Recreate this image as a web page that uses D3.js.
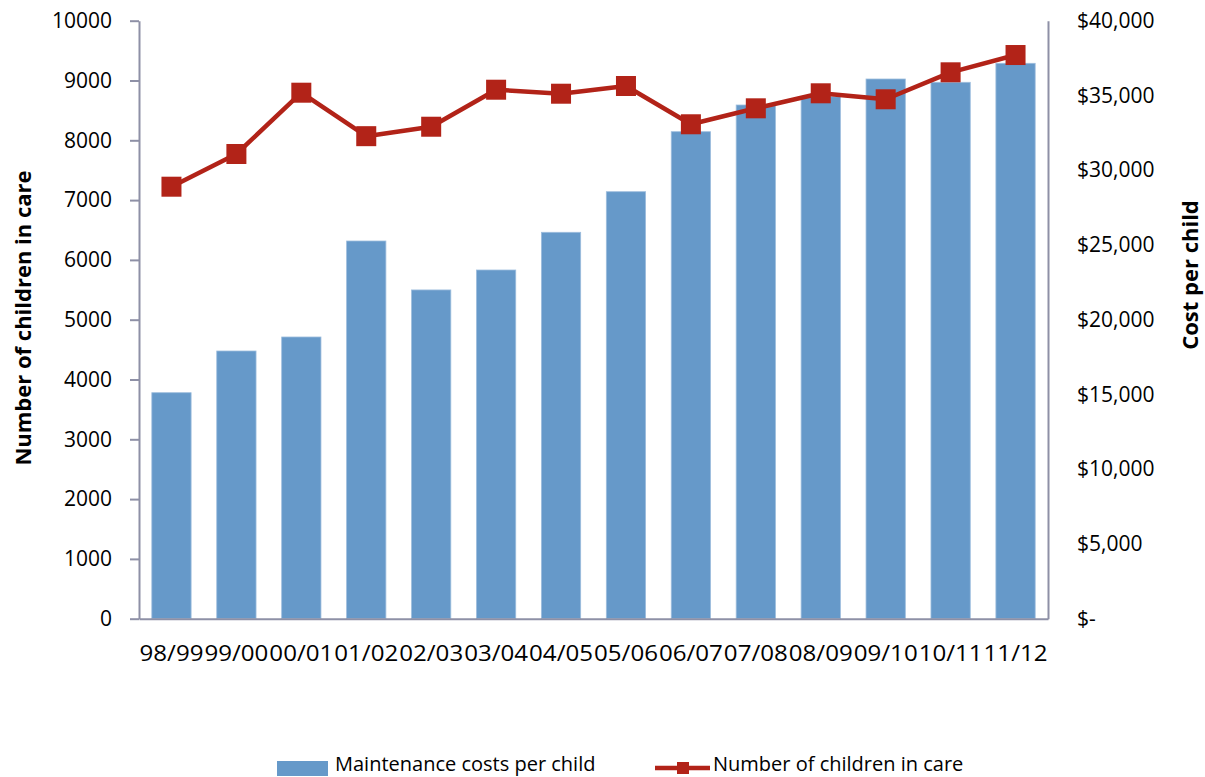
<!DOCTYPE html>
<html lang="en">
<head>
    <meta charset="UTF-8">
    <title>Children in care and cost per child</title>
    <style>
        body { margin: 0; background: #fff; }
        text { font-family: "Open Sans", sans-serif; fill: #000; }
    </style>
</head>
<body>
    <svg id="chart" width="1205" height="777"></svg>

    <script src="https://d3js.org/d3.v7.min.js"></script>
    <script>
        const years = ["98/99", "99/00", "00/01", "01/02", "02/03", "03/04", "04/05",
                       "05/06", "06/07", "07/08", "08/09", "09/10", "10/11", "11/12"];
        const childrenInCare = [7224, 7771, 8796, 8069, 8227, 8846, 8779,
                                8908, 8268, 8535, 8786, 8686, 9137, 9426];
        const costPerChild = [15117, 17906, 18843, 25264, 21990, 23324, 25846,
                              28562, 32575, 34361, 34916, 36100, 35880, 37150];
        const leftTicks = [0, 1000, 2000, 3000, 4000, 5000, 6000, 7000, 8000, 9000, 10000];
        const rightTicks = [0, 5000, 10000, 15000, 20000, 25000, 30000, 35000, 40000];

        const plotLeft = 139, plotRight = 1048, plotTop = 20.7, plotBottom = 618.7;
        const axisColor = "#8E90A6";
        const barColor = "#6699C9";
        const lineColor = "#B22318";

        const svg = d3.select("#chart");

        const x = d3.scaleBand()
            .domain(years)
            .range([plotLeft, plotRight])
            .paddingInner(0.395)
            .paddingOuter(0.1975);

        const yLeft = d3.scaleLinear().domain([0, 10000]).range([plotBottom, plotTop]);
        const yRight = d3.scaleLinear().domain([0, 40000]).range([plotBottom, plotTop]);

        // bars (cost, right axis)
        svg.append("g")
            .selectAll("rect")
            .data(years)
            .join("rect")
            .attr("x", (d) => x(d))
            .attr("y", (d, i) => yRight(costPerChild[i]))
            .attr("width", x.bandwidth())
            .attr("height", (d, i) => plotBottom - yRight(costPerChild[i]))
            .attr("fill", barColor)
            .attr("stroke", "#9DBDDD")
            .attr("stroke-width", 0.8);

        // axes
        const leftAxis = svg.append("g")
            .attr("transform", `translate(${plotLeft},0)`)
            .call(d3.axisLeft(yLeft).tickValues(leftTicks).tickFormat(d3.format("d"))
                .tickSize(9).tickSizeOuter(0).tickPadding(18));

        const rightAxis = svg.append("g")
            .attr("transform", `translate(${plotRight},0)`)
            .call(d3.axisRight(yRight).tickValues(rightTicks)
                .tickFormat((v) => v === 0 ? "$-" : "$" + d3.format(",")(v))
                .tickSize(0).tickPadding(29));

        const bottomAxis = svg.append("g")
            .attr("transform", `translate(0,${plotBottom})`)
            .call(d3.axisBottom(x).tickSize(0).tickPadding(27));

        [leftAxis, rightAxis, bottomAxis].forEach((g) => {
            g.select(".domain").attr("stroke", axisColor).attr("stroke-width", 2);
            g.selectAll(".tick line").attr("stroke", axisColor).attr("stroke-width", 2);
            g.selectAll("text").attr("font-size", 21).attr("font-family", "Open Sans").attr("fill", "#000");
        });
        bottomAxis.selectAll("text")
            .attr("textLength", x.step() - 1)
            .attr("lengthAdjust", "spacingAndGlyphs");

        // line (children, left axis)
        const cx = (d) => x(d) + x.bandwidth() / 2;
        const line = d3.line()
            .x((d) => cx(d))
            .y((d, i) => yLeft(childrenInCare[i]));

        svg.append("path")
            .datum(years)
            .attr("d", line)
            .attr("fill", "none")
            .attr("stroke", lineColor)
            .attr("stroke-width", 4.5)
            .attr("stroke-linejoin", "round");

        svg.append("g")
            .selectAll("rect")
            .data(years)
            .join("rect")
            .attr("x", (d) => cx(d) - 10)
            .attr("y", (d, i) => yLeft(childrenInCare[i]) - 10)
            .attr("width", 20)
            .attr("height", 20)
            .attr("fill", lineColor);

        // axis titles
        svg.append("text")
            .attr("transform", "translate(31,318) rotate(-90)")
            .attr("text-anchor", "middle")
            .attr("font-size", 22)
            .attr("font-weight", "bold")
            .text("Number of children in care");

        svg.append("text")
            .attr("transform", "translate(1198,275) rotate(-90)")
            .attr("text-anchor", "middle")
            .attr("font-size", 22)
            .attr("font-weight", "bold")
            .text("Cost per child");

        // legend
        const legend = svg.append("g");
        legend.append("rect")
            .attr("x", 277).attr("y", 761)
            .attr("width", 51).attr("height", 15)
            .attr("fill", barColor);
        legend.append("text")
            .attr("x", 335).attr("y", 771)
            .attr("font-size", 20)
            .text("Maintenance costs per child");
        legend.append("line")
            .attr("x1", 655).attr("x2", 710)
            .attr("y1", 768).attr("y2", 768)
            .attr("stroke", lineColor).attr("stroke-width", 4.5);
        legend.append("rect")
            .attr("x", 677).attr("y", 762)
            .attr("width", 12).attr("height", 12)
            .attr("fill", lineColor);
        legend.append("text")
            .attr("x", 713).attr("y", 771)
            .attr("font-size", 20)
            .text("Number of children in care");
    </script>
</body>
</html>
